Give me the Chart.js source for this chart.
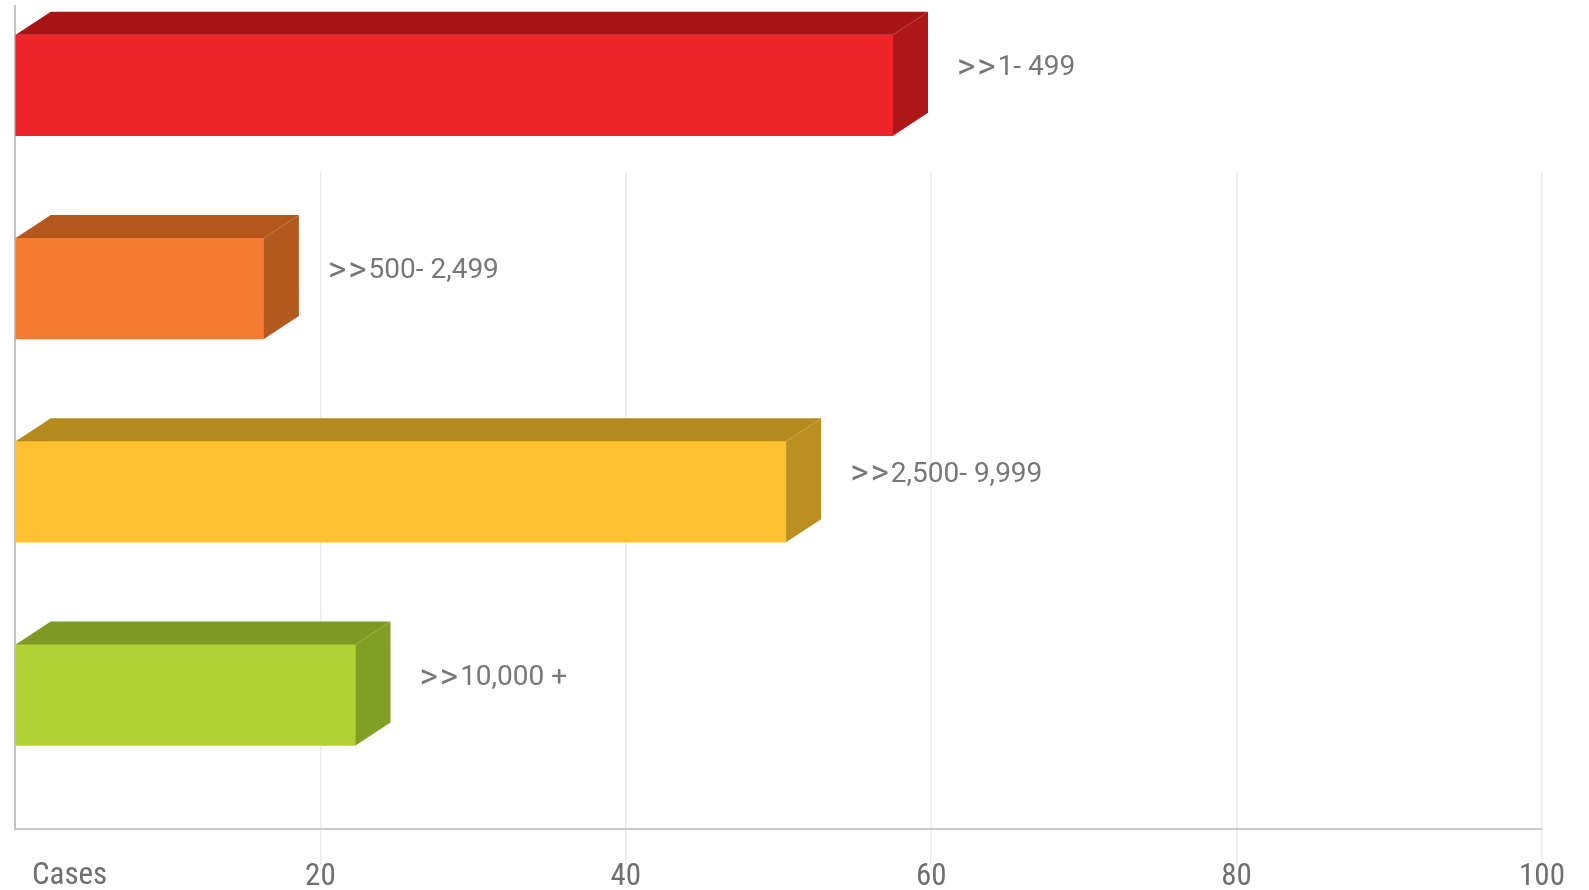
<!DOCTYPE html>
<html>
<head>
<meta charset="utf-8">
<title>Cases by range</title>
<script src="https://cdn.jsdelivr.net/npm/chart.js@4.4.1/dist/chart.umd.min.js"></script>
<style>
  html, body { margin: 0; padding: 0; background: #fff; }
  #wrap { width: 1589px; height: 890px; position: relative; }
</style>
</head>
<body>
<div id="wrap"><canvas id="casesChart"></canvas></div>
<script>
// ── Data ────────────────────────────────────────────────────────
const categories = ['>>1- 499', '>>500- 2,499', '>>2,500- 9,999', '>>10,000 +'];
const caseValues = [57.5, 16.3, 50.5, 22.3];
const tickValues = [0, 20, 40, 60, 80, 100];
const axisTitle  = 'Cases';

// front / top / side shades for the extruded bars
const frontColors = ['#ed2428', '#f47b30', '#fdc02f', '#b2d234'];
const topColors   = ['#a81516', '#b4571d', '#b68b1e', '#7f9a24'];
const sideColors  = ['#ae1619', '#b35a1e', '#bb8f20', '#819e25'];

// ── Look ────────────────────────────────────────────────────────
const DEPTH_X  = 35;     // extrusion to the right
const DEPTH_Y  = 23;     // extrusion upwards
const GRID_TOP = 172;    // grid lines start below the first bar
const condensed = "'Roboto Condensed', 'Liberation Sans Narrow', 'DejaVu Sans Condensed', sans-serif";

// draws ">>" with the bigger arrow glyphs, then the range text
function drawRangeLabel(ctx, text, x, y) {
  let cx = x;
  if (text.startsWith('>>')) {
    ctx.font = '35px Roboto, sans-serif';
    for (let k = 0; k < 2; k++) {
      ctx.fillText('>', cx, y + 1);
      cx += ctx.measureText('>').width + 2;
    }
    text = text.slice(2);
  }
  ctx.font = '28px Roboto, sans-serif';
  ctx.fillText(text, cx, y);
}

// ── 3D bars + labels plugin ─────────────────────────────────────
const bar3d = {
  id: 'bar3d',
  beforeDatasetsDraw(chart) {
    // keep the top band free of grid lines
    const { ctx, chartArea: a } = chart;
    ctx.save();
    ctx.fillStyle = '#fff';
    ctx.fillRect(a.left + 2, a.top - 10, a.right - a.left + 4, GRID_TOP - a.top + 10);
    ctx.restore();
  },
  afterDatasetsDraw(chart) {
    const { ctx } = chart;
    const meta = chart.getDatasetMeta(0);
    ctx.save();
    meta.data.forEach((bar, i) => {
      const { x, y, base, height } = bar.getProps(['x', 'y', 'base', 'height'], true);
      const top = y - height / 2, bottom = y + height / 2;

      // top face
      ctx.fillStyle = topColors[i];
      ctx.beginPath();
      ctx.moveTo(base, top);
      ctx.lineTo(base + DEPTH_X, top - DEPTH_Y);
      ctx.lineTo(x + DEPTH_X, top - DEPTH_Y);
      ctx.lineTo(x, top);
      ctx.closePath();
      ctx.fill();

      // right face
      ctx.fillStyle = sideColors[i];
      ctx.beginPath();
      ctx.moveTo(x, top);
      ctx.lineTo(x + DEPTH_X, top - DEPTH_Y);
      ctx.lineTo(x + DEPTH_X, bottom - DEPTH_Y);
      ctx.lineTo(x, bottom);
      ctx.closePath();
      ctx.fill();

      // range label
      ctx.fillStyle = '#777';
      ctx.textAlign = 'left';
      ctx.textBaseline = 'middle';
      drawRangeLabel(ctx, categories[i], x + DEPTH_X + 29, y - 17);
    });
    ctx.restore();
  },
  afterDraw(chart) {
    // axis caption sits in the slot of the zero tick
    const { ctx, chartArea: a } = chart;
    ctx.save();
    ctx.fillStyle = '#6f6f6f';
    ctx.font = '31px ' + condensed;
    ctx.textAlign = 'left';
    ctx.textBaseline = 'middle';
    ctx.fillText(axisTitle, a.left + 17, a.bottom + 47);
    ctx.restore();
  }
};

// ── Chart ───────────────────────────────────────────────────────
new Chart(document.getElementById('casesChart'), {
  type: 'bar',
  data: {
    labels: categories,
    datasets: [{
      data: caseValues.map((v, i) => ({ x: v, y: i })),
      backgroundColor: frontColors,
      borderWidth: 0,
      barThickness: 101,
    }]
  },
  options: {
    indexAxis: 'y',
    responsive: true,
    maintainAspectRatio: false,
    animation: false,
    layout: { padding: { left: 7, right: 47, top: 6, bottom: 0 } },
    plugins: {
      legend: { display: false },
      tooltip: { enabled: false }
    },
    scales: {
      x: {
        type: 'linear',
        min: 0,
        max: 100,
        afterBuildTicks: s => { s.ticks = tickValues.map(v => ({ value: v })); },
        grid: {
          color: c => (c.tick && c.tick.value === 0) ? 'rgba(0,0,0,0)' : '#ebebeb',
          lineWidth: 1.5,
          drawTicks: true,
          tickLength: 35
        },
        border: { color: '#c8c8c8', width: 2 },
        ticks: {
          color: '#6f6f6f',
          padding: -2.5,
          maxRotation: 0,
          autoSkip: false,
          font: { family: condensed, size: 31, lineHeight: 1 },
          callback: v => v === 0 ? '' : v
        }
      },
      y: {
        type: 'linear',
        reverse: true,
        offset: false,
        min: -0.39,
        max: 3.66,
        grid: { display: false },
        border: { color: '#c3c3c3', width: 2 },
        ticks: { display: false }
      }
    }
  },
  plugins: [bar3d]
});
</script>
</body>
</html>
